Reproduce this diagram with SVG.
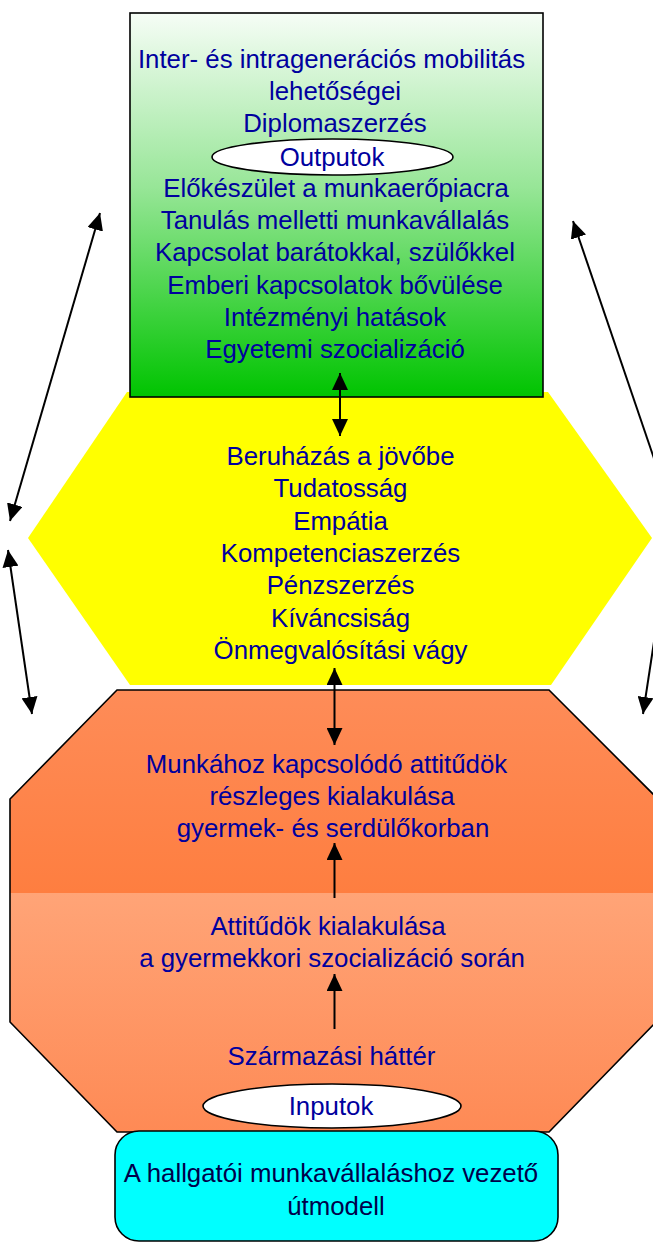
<svg xmlns="http://www.w3.org/2000/svg" width="653" height="1242" viewBox="0 0 653 1242">
<style>
  text { font-family: "Liberation Sans", Arial, sans-serif; font-size: 25.8px; text-anchor: middle; fill: #00009e; }
  .dark { fill: #00004a; }
  .conn { stroke: #000; stroke-width: 2; fill: none; }
  .edge { stroke: #000; stroke-width: 1.6; }
</style>
<defs>
  <linearGradient id="gGreen" x1="0" y1="0" x2="0" y2="1">
    <stop offset="0" stop-color="#f6fdf6"/>
    <stop offset="0.45" stop-color="#98e698"/>
    <stop offset="1" stop-color="#00c400"/>
  </linearGradient>
  <linearGradient id="gOrange" x1="0" y1="690" x2="0" y2="1132" gradientUnits="userSpaceOnUse">
    <stop offset="0" stop-color="#fe8c58"/>
    <stop offset="0.459" stop-color="#fe7e40"/>
    <stop offset="0.46" stop-color="#ffa477"/>
    <stop offset="1" stop-color="#fe8a55"/>
  </linearGradient>
  <marker id="ah" viewBox="0 0 17 16" refX="17" refY="8" markerWidth="17" markerHeight="16" markerUnits="userSpaceOnUse" orient="auto-start-reverse">
    <path d="M0,0 L17,8 L0,16 z" fill="#000"/>
  </marker>
</defs>

<g id="hexagon">
  <polygon points="28,538 127,392 548,392 652,538 551,685 130,685" fill="#ffff00"/>
  <text x="340.5" y="465">Beruházás a jövőbe</text>
  <text x="340.5" y="497.3">Tudatosság</text>
  <text x="340.5" y="529.6">Empátia</text>
  <text x="340.5" y="561.9">Kompetenciaszerzés</text>
  <text x="340.5" y="594.2">Pénzszerzés</text>
  <text x="340.5" y="626.5">Kíváncsiság</text>
  <text x="340.5" y="658.8">Önmegvalósítási vágy</text>
</g>

<g id="outputs-box">
  <rect x="130" y="13" width="413" height="384" fill="url(#gGreen)" class="edge"/>
  <text x="331.5" y="67.5">Inter- és intragenerációs mobilitás</text>
  <text x="335" y="99.8">lehetőségei</text>
  <text x="335" y="132.1">Diplomaszerzés</text>
  <text x="336" y="196.7">Előkészület a munkaerőpiacra</text>
  <text x="335" y="229">Tanulás melletti munkavállalás</text>
  <text x="335" y="261.3">Kapcsolat barátokkal, szülőkkel</text>
  <text x="335" y="293.6">Emberi kapcsolatok bővülése</text>
  <text x="335" y="325.9">Intézményi hatások</text>
  <text x="335" y="358.2">Egyetemi szocializáció</text>
</g>

<g id="outputok-label">
  <ellipse cx="332.5" cy="157" rx="120.5" ry="18" fill="#fff" class="edge"/>
  <text x="332" y="166">Outputok</text>
</g>

<g id="octagon">
  <polygon points="117,690 549,690 656,797 656,1022 549,1132 117,1132 10,1022 10,799" fill="url(#gOrange)" class="edge"/>
  <text x="326.5" y="773">Munkához kapcsolódó attitűdök</text>
  <text x="332" y="805">részleges kialakulása</text>
  <text x="333" y="837">gyermek- és serdülőkorban</text>
  <text x="328" y="935">Attitűdök kialakulása</text>
  <text x="332" y="967">a gyermekkori szocializáció során</text>
  <text x="331.5" y="1065">Származási háttér</text>
</g>

<g id="title-box">
  <rect x="115" y="1131" width="443" height="110" rx="24" ry="24" fill="#00ffff" class="edge"/>
  <text class="dark" x="331" y="1182">A hallgatói munkavállaláshoz vezető</text>
  <text class="dark" x="336" y="1215">útmodell</text>
</g>

<g id="inputok-label">
  <ellipse cx="332" cy="1106" rx="129" ry="22" fill="#fff" class="edge"/>
  <text x="331" y="1115">Inputok</text>
</g>

<g id="connectors">
  <line class="conn" x1="340" y1="373" x2="340" y2="436" marker-start="url(#ah)" marker-end="url(#ah)"/>
  <line class="conn" x1="334.5" y1="668" x2="334.5" y2="745" marker-start="url(#ah)" marker-end="url(#ah)"/>
  <line class="conn" x1="334.5" y1="898" x2="334.5" y2="843" marker-end="url(#ah)"/>
  <line class="conn" x1="334.5" y1="1029" x2="334.5" y2="974" marker-end="url(#ah)"/>
  <line class="conn" x1="100" y1="213" x2="10" y2="521" marker-start="url(#ah)" marker-end="url(#ah)"/>
  <line class="conn" x1="8" y1="550" x2="32" y2="714" marker-start="url(#ah)" marker-end="url(#ah)"/>
  <line class="conn" x1="675" y1="520" x2="573" y2="221" marker-end="url(#ah)"/>
  <line class="conn" x1="668" y1="550" x2="643" y2="714" marker-end="url(#ah)"/>
</g>
</svg>
